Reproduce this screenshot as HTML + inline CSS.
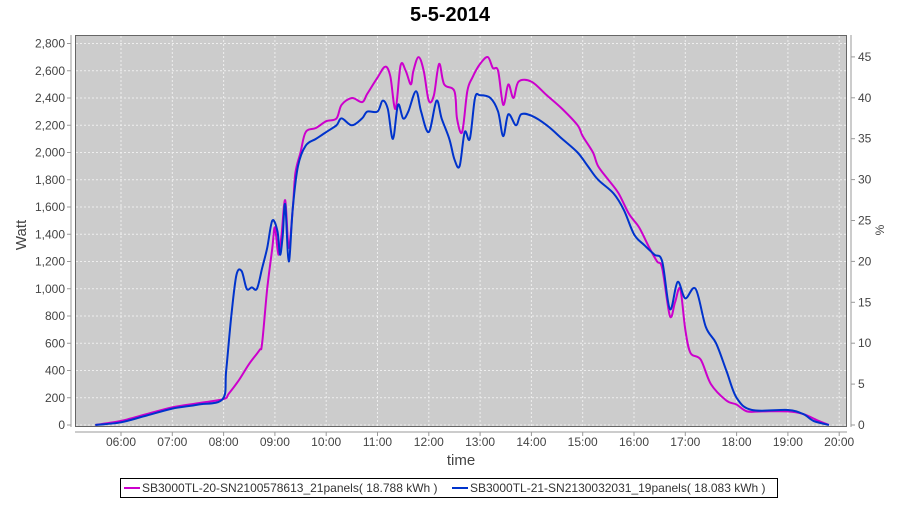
<!DOCTYPE html>
<html><head><meta charset="utf-8"><style>
body{margin:0;background:#fff;font-family:"Liberation Sans",sans-serif}
</style></head><body>
<svg id="s" width="900" height="500" xmlns="http://www.w3.org/2000/svg" font-family="Liberation Sans, sans-serif">
<rect x="0" y="0" width="900" height="500" fill="#fff"/>
<text x="450" y="21" text-anchor="middle" font-size="20" font-weight="bold">5-5-2014</text>
<rect x="75.5" y="35.5" width="771" height="391" fill="#cccccc" stroke="#666" stroke-width="1"/>
<g id="grid" stroke="#eee" stroke-dasharray="2,2" stroke-width="1"></g>
<g id="ax" font-size="12" fill="#444"></g>
<line x1="71" y1="35" x2="71" y2="427" stroke="#999"/>
<line x1="851" y1="35" x2="851" y2="427" stroke="#999"/>
<line x1="75" y1="432" x2="847" y2="432" stroke="#999"/>
<path id="m" fill="none" stroke="#cc00cc" stroke-width="2"/>
<path id="b" fill="none" stroke="#0033cc" stroke-width="2"/>
<text transform="translate(26,235) rotate(-90)" text-anchor="middle" font-size="15" fill="#444">Watt</text>
<text transform="translate(884,230) rotate(-90)" text-anchor="middle" font-size="12" fill="#444">%</text>
<text x="461" y="465" text-anchor="middle" font-size="15" fill="#444">time</text>
<rect x="120.5" y="478.5" width="657" height="19" fill="#fff" stroke="#000"/>
<line x1="124" y1="488" x2="140" y2="488" stroke="#cc00cc" stroke-width="2"/>
<text x="142" y="492" font-size="12" fill="#333">SB3000TL-20-SN2100578613_21panels( 18.788 kWh )</text>
<line x1="452" y1="488" x2="468" y2="488" stroke="#0033cc" stroke-width="2"/>
<text x="470" y="492" font-size="12" fill="#333">SB3000TL-21-SN2130032031_19panels( 18.083 kWh )</text>
</svg>
<script>
var X=t=>121+(t-6)*51.3, Y=w=>425-w*0.13625;
var g=document.getElementById('grid'),ax=document.getElementById('ax'),NS="http://www.w3.org/2000/svg";
function el(p,n,a,txt){var e=document.createElementNS(NS,n);for(var k in a)e.setAttribute(k,a[k]);if(txt!==undefined)e.textContent=txt;p.appendChild(e);}
for(var w=0;w<=2800;w+=200){var y=Y(w);el(g,'line',{x1:76,x2:846,y1:y,y2:y});el(ax,'line',{x1:67,x2:71,y1:y,y2:y,stroke:'#999'});el(ax,'text',{x:65,y:y+4,'text-anchor':'end'},w.toLocaleString('en-US'));}
for(var h=6;h<=20;h++){var x=X(h);el(g,'line',{x1:x,x2:x,y1:36,y2:426});el(ax,'line',{x1:x,x2:x,y1:432,y2:436,stroke:'#999'});el(ax,'text',{x:x,y:446,'text-anchor':'middle'},(h<10?'0':'')+h+':00');}
for(var p=0;p<=45;p+=5){var y=425-p*8.18;el(ax,'line',{x1:851,x2:855,y1:y,y2:y,stroke:'#999'});el(ax,'text',{x:858,y:y+4},p);}
var M=[5.5,0,6,30,6.5,80,7,130,7.5,160,8,190,8.1,230,8.3,330,8.5,450,8.7,550,8.75,600,8.85,1000,8.95,1300,9.0,1450,9.07,1250,9.13,1400,9.2,1650,9.27,1300,9.35,1600,9.4,1850,9.5,2000,9.6,2150,9.8,2180,10.0,2230,10.2,2250,10.3,2350,10.5,2400,10.7,2370,10.8,2430,11.0,2550,11.15,2630,11.25,2560,11.35,2320,11.45,2640,11.55,2600,11.65,2500,11.7,2600,11.8,2700,11.9,2600,12.0,2380,12.1,2420,12.2,2650,12.3,2500,12.5,2450,12.55,2250,12.65,2150,12.75,2450,12.85,2550,13.0,2650,13.15,2700,13.25,2620,13.35,2600,13.45,2350,13.55,2500,13.65,2400,13.75,2520,14.0,2520,14.3,2420,14.6,2320,14.9,2200,15.0,2120,15.2,2000,15.3,1900,15.5,1800,15.7,1700,15.9,1550,16.1,1450,16.3,1300,16.45,1200,16.55,1150,16.7,800,16.8,900,16.9,1000,17.0,700,17.1,530,17.3,480,17.5,300,17.8,180,18.0,150,18.2,100,18.5,100,19.0,100,19.3,80,19.6,30,19.8,0];
var B=[5.5,0,6,20,6.5,70,7,120,7.5,150,7.98,190,8.05,400,8.15,800,8.25,1100,8.35,1130,8.45,1000,8.55,1010,8.65,1000,8.75,1150,8.85,1300,8.95,1500,9.05,1420,9.1,1250,9.15,1380,9.2,1620,9.27,1200,9.35,1600,9.45,1900,9.6,2050,9.8,2100,10.0,2150,10.2,2200,10.3,2250,10.5,2200,10.7,2250,10.8,2300,11.0,2300,11.1,2380,11.2,2320,11.3,2100,11.4,2350,11.5,2250,11.6,2300,11.75,2450,11.85,2300,12.0,2150,12.15,2380,12.25,2250,12.4,2100,12.5,1950,12.6,1900,12.7,2150,12.8,2100,12.9,2400,13.0,2420,13.2,2400,13.35,2300,13.45,2120,13.55,2280,13.7,2200,13.8,2280,14.0,2270,14.3,2200,14.6,2100,14.9,2000,15.1,1900,15.3,1800,15.6,1700,15.8,1580,16.0,1400,16.2,1320,16.4,1250,16.55,1200,16.7,850,16.85,1050,17.0,930,17.2,1000,17.4,720,17.6,600,17.8,400,18.0,200,18.3,110,19.0,110,19.3,80,19.5,30,19.8,0];
function d(a){var P=[];for(var i=0;i<a.length;i+=2)P.push([X(a[i]),Y(a[i+1])]);
var s='M'+P[0][0].toFixed(1)+','+P[0][1].toFixed(1);
for(var i=0;i<P.length-1;i++){var p0=P[Math.max(i-1,0)],p1=P[i],p2=P[i+1],p3=P[Math.min(i+2,P.length-1)];
var c1x=p1[0]+(p2[0]-p0[0])/6,c1y=p1[1]+(p2[1]-p0[1])/6,c2x=p2[0]-(p3[0]-p1[0])/6,c2y=p2[1]-(p3[1]-p1[1])/6;
s+='C'+c1x.toFixed(1)+','+c1y.toFixed(1)+' '+c2x.toFixed(1)+','+c2y.toFixed(1)+' '+p2[0].toFixed(1)+','+p2[1].toFixed(1);}
return s;}
document.getElementById('m').setAttribute('d',d(M));
document.getElementById('b').setAttribute('d',d(B));
</script>
</body></html>
